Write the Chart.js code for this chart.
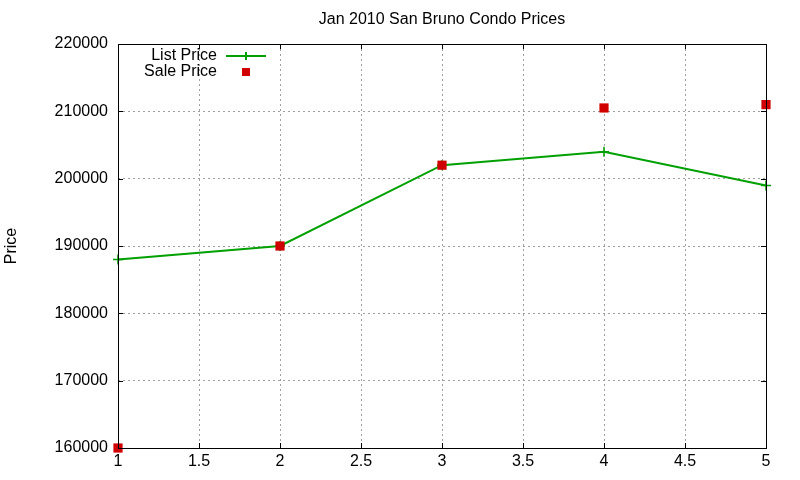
<!DOCTYPE html>
<html><head><meta charset="utf-8">
<script src="https://cdn.jsdelivr.net/npm/chart.js@4"></script>
<style>html,body{margin:0;padding:0;background:#fff}#wrap{width:800px;height:480px}</style>
</head><body><div id="wrap"><canvas id="c" width="800" height="480"></canvas></div>
<script>
const xValues = [1, 2, 3, 4, 5];
const listPrice = [188000, 190000, 202000, 204000, 199000];
const salePrice = [160000, 190000, 202000, 210500, 211000];
const titleText = 'Jan 2010 San Bruno Condo Prices';
const yLabel = 'Price';
const seriesNames = ['List Price', 'Sale Price'];
const FONT = '"Liberation Sans", Arial, sans-serif';
const GREEN = '#00a000', RED = '#d00000';

const deco = {
  id: 'deco',
  afterDraw(chart) {
    const ctx = chart.ctx, a = chart.chartArea;
    const xs = chart.scales.x, ys = chart.scales.y;
    ctx.save();
    ctx.strokeStyle = '#000'; ctx.lineWidth = 1;
    ctx.beginPath();
    xs.ticks.forEach(t => { const px = Math.round(xs.getPixelForValue(t.value)) + 0.5;
      ctx.moveTo(px, a.bottom); ctx.lineTo(px, a.bottom - 5);
      ctx.moveTo(px, a.top); ctx.lineTo(px, a.top + 5); });
    ys.ticks.forEach(t => { const py = Math.round(ys.getPixelForValue(t.value)) + 0.5;
      ctx.moveTo(a.left, py); ctx.lineTo(a.left + 5, py);
      ctx.moveTo(a.right, py); ctx.lineTo(a.right - 5, py); });
    ctx.stroke();
    ctx.strokeRect(Math.round(a.left) + 0.5, Math.round(a.top) + 0.5, Math.round(a.right - a.left), Math.round(a.bottom - a.top));
    ctx.fillStyle = '#000';
    ctx.font = '16px ' + FONT;
    ctx.textAlign = 'center'; ctx.textBaseline = 'middle';
    ctx.fillText(titleText, (a.left + a.right) / 2, 20);
    ctx.save(); ctx.translate(12, (a.top + a.bottom) / 2); ctx.rotate(-Math.PI / 2);
    ctx.fillText(yLabel, 0, 0); ctx.restore();
    ctx.textAlign = 'right';
    ctx.fillText(seriesNames[0], 217, 56);
    ctx.fillText(seriesNames[1], 217, 72);
    ctx.strokeStyle = GREEN; ctx.lineWidth = 2;
    ctx.beginPath(); ctx.moveTo(226, 56); ctx.lineTo(266, 56);
    ctx.moveTo(246, 52); ctx.lineTo(246, 60); ctx.stroke();
    ctx.fillStyle = RED; ctx.fillRect(242, 68, 8, 8);
    ctx.restore();
  }
};

new Chart(document.getElementById('c'), {
  type: 'scatter',
  data: {
    datasets: [
      { label: seriesNames[0], data: xValues.map((x, i) => ({x, y: listPrice[i]})),
        showLine: true, borderColor: GREEN, backgroundColor: GREEN, borderWidth: 2,
        pointStyle: 'cross', pointRadius: 5, pointBorderWidth: 1.5, clip: false, order: 1 },
      { label: seriesNames[1], data: xValues.map((x, i) => ({x, y: salePrice[i]})),
        showLine: false, borderColor: RED, backgroundColor: RED, borderWidth: 0,
        pointStyle: 'rect', pointRadius: 6.5, clip: false, order: 0 }
    ]
  },
  options: {
    responsive: false, animation: false, devicePixelRatio: 1,
    layout: { padding: { top: 44, right: 34, left: 0, bottom: 0 } },
    plugins: { legend: { display: false }, title: { display: false }, tooltip: { enabled: false } },
    elements: { line: { tension: 0 } },
    scales: {
      x: { type: 'linear', min: 1, max: 5,
        afterFit(s) { s.height = 32; },
        ticks: { stepSize: 0.5, color: '#000', font: { family: FONT, size: 16 }, padding: 4, maxRotation: 0,
          callback: v => String(v) },
        grid: { color: '#a0a0a0', lineWidth: 1, drawTicks: false, tickLength: 0 },
        border: { display: false, dash: [2, 3] } },
      y: { type: 'linear', min: 160000, max: 220000,
        afterFit(s) { s.width = 118; },
        ticks: { stepSize: 10000, color: '#000', font: { family: FONT, size: 16 }, padding: 10,
          callback: v => String(v) },
        grid: { color: '#a0a0a0', lineWidth: 1, drawTicks: false, tickLength: 0 },
        border: { display: false, dash: [2, 3] } }
    }
  },
  plugins: [deco]
});
</script></body></html>
